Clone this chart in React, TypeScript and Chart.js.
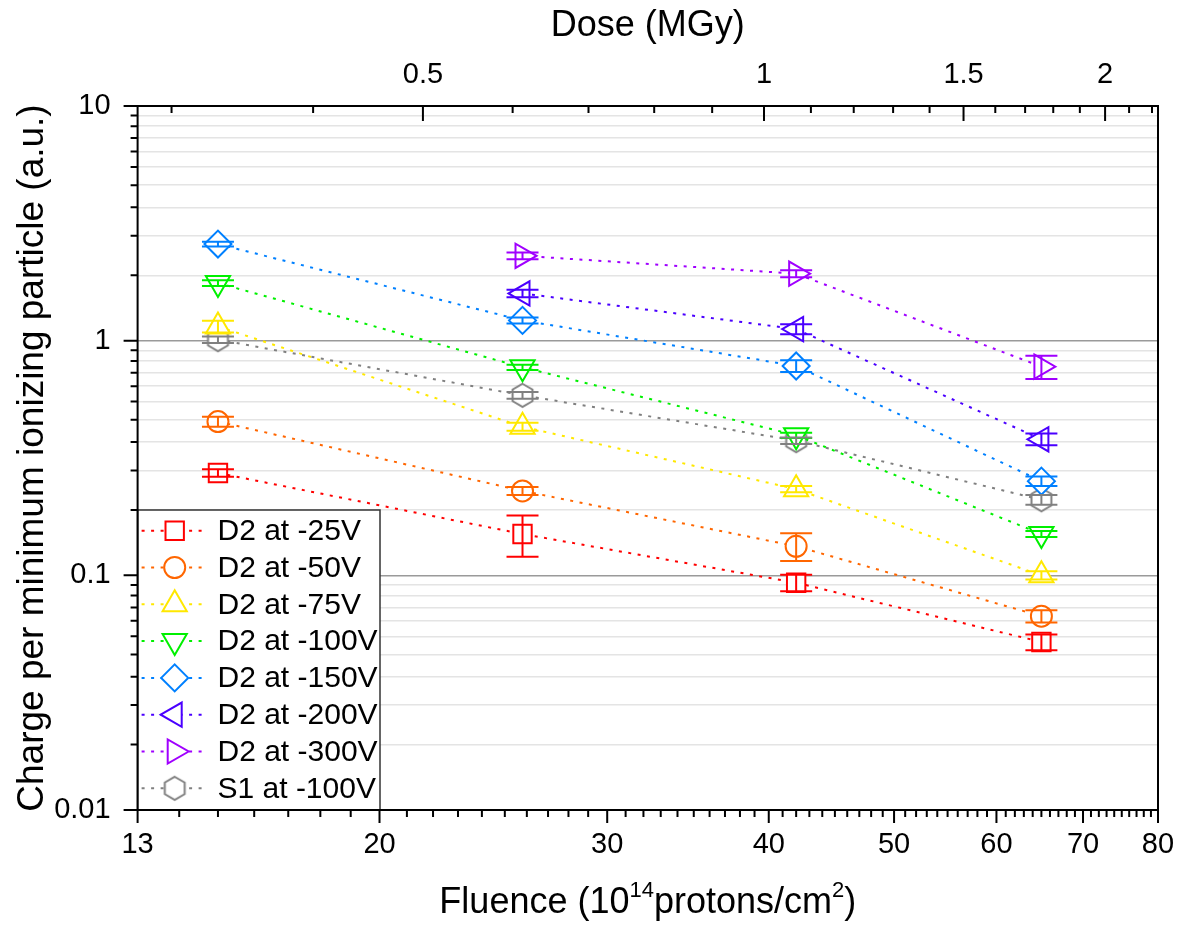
import React, { useEffect, useRef } from 'react';
import { Chart, registerables } from 'chart.js';

Chart.register(...registerables);

// ---------- data ----------
const fluence = [15, 25.8, 42, 65];

const seriesNames = [
  'D2 at -25V',
  'D2 at -50V',
  'D2 at -75V',
  'D2 at -100V',
  'D2 at -150V',
  'D2 at -200V',
  'D2 at -300V',
  'S1 at -100V',
];

const v25 = [0.273, 0.15, 0.093, 0.052];
const e25 = [0.01, 0.03, 0.0075, 0.004];
const v50 = [0.452, 0.229, 0.133, 0.067];
const e50 = [0.022, 0.009, 0.018, 0.004];
const v75 = [1.15, 0.43, 0.233, 0.1];
const e75 = [0.066, 0.017, 0.007, 0.004];
const v100 = [1.76, 0.77, 0.395, 0.15];
const e100 = [0.05, 0.02, 0.01, 0.0045];
const v150 = [2.58, 1.22, 0.78, 0.252];
const e150 = [0.06, 0.036, 0.045, 0.012];
const v200 = [null, 1.59, 1.12, 0.38];
const e200 = [null, 0.06, 0.055, 0.022];
const v300 = [null, 2.3, 1.93, 0.775];
const e300 = [null, 0.075, 0.065, 0.088];
const vS1 = [1.01, 0.585, 0.375, 0.21];
const eS1 = [0.033, 0.019, 0.012, 0.01];

const seriesValues = [v25, v50, v75, v100, v150, v200, v300, vS1];
const seriesErrors = [e25, e50, e75, e100, e150, e200, e300, eS1];

// tick labels
const xTickLabels = [13, 20, 30, 40, 50, 60, 70, 80];
const doseTickLabels = [0.5, 1, 1.5, 2];
const doseMinorTicks = [0.3, 0.4, 0.6, 0.7, 0.8, 0.9, 1.1, 1.2, 1.3, 1.4, 1.6, 1.7, 1.8, 1.9, 2.1, 2.2];
const yDecades = [0.01, 0.1, 1, 10];
const yTickLabels = ['0.01', '0.1', '1', '10'];

// ---------- styles ----------
const colors = ['#FF0000', '#FF6600', '#FFE800', '#00F000', '#0080FF', '#4A00FF', '#A000FF', '#808080'];
const markerStyles = ['rect', 'circle', 'triangle', 'triangle', 'rectRot', 'triangle', 'triangle', 'hex'];
const markerRot = [0, 0, 0, 180, 0, -90, 90, 0];
const markerRadius = [13, 10.5, 14, 14, 13.5, 14, 14, 11.5];

const FONT = '"Liberation Sans", Arial, Helvetica, sans-serif';
const DASH = [3, 6.5];

function makeHexagon(color: string, r: number): HTMLCanvasElement {
  const c = document.createElement('canvas');
  const size = Math.ceil(2 * r + 6);
  c.width = size;
  c.height = size;
  const ctx = c.getContext('2d')!;
  const cx = size / 2;
  const cy = size / 2;
  ctx.beginPath();
  for (let i = 0; i < 6; i++) {
    const a = (Math.PI / 3) * i; // pointy top
    const px = cx + Math.sin(a) * r;
    const py = cy - Math.cos(a) * r;
    if (i === 0) ctx.moveTo(px, py);
    else ctx.lineTo(px, py);
  }
  ctx.closePath();
  ctx.fillStyle = '#ffffff';
  ctx.fill();
  ctx.strokeStyle = color;
  ctx.lineWidth = 2;
  ctx.stroke();
  return c;
}

function drawMarker(ctx: CanvasRenderingContext2D, idx: number, x: number, y: number, hex: HTMLCanvasElement) {
  const style = markerStyles[idx];
  const r = markerRadius[idx];
  const color = colors[idx];
  ctx.save();
  ctx.setLineDash([]);
  if (style === 'hex') {
    ctx.drawImage(hex, x - hex.width / 2, y - hex.height / 2);
    ctx.restore();
    return;
  }
  ctx.strokeStyle = color;
  ctx.fillStyle = '#ffffff';
  ctx.lineWidth = 2;
  ctx.beginPath();
  if (style === 'rect') {
    const s = r * Math.SQRT1_2;
    ctx.rect(x - s, y - s, 2 * s, 2 * s);
  } else if (style === 'circle') {
    ctx.arc(x, y, r, 0, Math.PI * 2);
  } else if (style === 'rectRot') {
    ctx.moveTo(x, y - r);
    ctx.lineTo(x + r, y);
    ctx.lineTo(x, y + r);
    ctx.lineTo(x - r, y);
    ctx.closePath();
  } else if (style === 'triangle') {
    let a = (markerRot[idx] * Math.PI) / 180;
    for (let i = 0; i < 3; i++) {
      const px = x + Math.sin(a) * r;
      const py = y - Math.cos(a) * r;
      if (i === 0) ctx.moveTo(px, py);
      else ctx.lineTo(px, py);
      a += (2 * Math.PI) / 3;
    }
    ctx.closePath();
  }
  ctx.fill();
  ctx.stroke();
  ctx.restore();
}

const near = (a: number, b: number) => Math.abs(a - b) < 1e-9 * Math.max(1, Math.abs(b));
const isDecade = (v: number) => Math.abs(Math.log10(v) - Math.round(Math.log10(v))) < 1e-6;

export default function App() {
  const canvasRef = useRef<HTMLCanvasElement | null>(null);

  useEffect(() => {
    const canvas = canvasRef.current;
    if (!canvas) return;
    const hex = makeHexagon(colors[7], markerRadius[7]);

    const datasets = seriesNames.map((name, i) => {
      const data: { x: number; y: number }[] = [];
      seriesValues[i].forEach((v, j) => {
        if (v !== null && v !== undefined) data.push({ x: fluence[j], y: v as number });
      });
      return {
        label: name,
        data,
        borderColor: colors[i],
        backgroundColor: colors[i],
        borderWidth: 2,
        borderDash: DASH,
        fill: false,
        tension: 0,
        pointStyle: markerStyles[i] === 'hex' ? hex : markerStyles[i],
        pointRotation: markerRot[i],
        pointRadius: markerRadius[i],
        pointBorderWidth: 2,
        pointBorderColor: colors[i],
        pointBackgroundColor: '#ffffff',
        xAxisID: 'x',
        yAxisID: 'y',
      };
    });

    // y ticks: Origin-style linear minor ticks inside each decade
    const yTickVals: number[] = [];
    for (let d = 0; d < yDecades.length - 1; d++) {
      for (let k = 0; k < 10; k++) yTickVals.push(yDecades[d] * (1 + 0.9 * k));
    }
    yTickVals.push(yDecades[yDecades.length - 1]);

    const xTickVals: number[] = [];
    for (let v = xTickLabels[0]; v <= xTickLabels[xTickLabels.length - 1]; v++) xTickVals.push(v);

    const doseTickVals = [...doseMinorTicks, ...doseTickLabels].sort((a, b) => a - b);

    const tickFont = { family: FONT, size: 29 };

    const decorPlugin = {
      id: 'decor',
      afterDatasetsDraw(chart: any) {
        const ctx: CanvasRenderingContext2D = chart.ctx;
        const xs = chart.scales.x;
        const ys = chart.scales.y;
        ctx.save();
        ctx.setLineDash([]);
        ctx.lineWidth = 2;
        seriesValues.forEach((vals, i) => {
          ctx.strokeStyle = colors[i];
          vals.forEach((v, j) => {
            const e = seriesErrors[i][j];
            if (v === null || e === null) return;
            const px = xs.getPixelForValue(fluence[j]);
            const y1 = ys.getPixelForValue((v as number) + (e as number));
            const y2 = ys.getPixelForValue((v as number) - (e as number));
            ctx.beginPath();
            ctx.moveTo(px, y1);
            ctx.lineTo(px, y2);
            ctx.moveTo(px - 16, y1);
            ctx.lineTo(px + 16, y1);
            ctx.moveTo(px - 16, y2);
            ctx.lineTo(px + 16, y2);
            ctx.stroke();
          });
        });
        ctx.restore();
      },
      afterDraw(chart: any) {
        const ctx: CanvasRenderingContext2D = chart.ctx;
        const { left, right, top, bottom } = chart.chartArea;
        const xs = chart.scales.x;
        const x2 = chart.scales.x2;
        const ys = chart.scales.y;

        // legend
        const lgTop = 510;
        const lgRight = 380;
        ctx.save();
        ctx.fillStyle = '#ffffff';
        ctx.fillRect(left, lgTop, lgRight - left, bottom - lgTop);
        ctx.strokeStyle = '#333333';
        ctx.lineWidth = 1.5;
        ctx.strokeRect(left, lgTop, lgRight - left, bottom - lgTop);
        seriesNames.forEach((name, i) => {
          const cy = 530.7 + 36.8 * i;
          ctx.save();
          ctx.strokeStyle = colors[i];
          ctx.lineWidth = 2;
          ctx.setLineDash(DASH);
          ctx.beginPath();
          ctx.moveTo(left + 4, cy);
          ctx.lineTo(204, cy);
          ctx.stroke();
          ctx.restore();
          drawMarker(ctx, i, 174.7, cy, hex);
          ctx.fillStyle = '#000000';
          ctx.font = `30px ${FONT}`;
          ctx.textAlign = 'left';
          ctx.textBaseline = 'middle';
          ctx.fillText(name, 217.5, cy + 1);
        });
        ctx.restore();

        // ticks
        ctx.save();
        ctx.strokeStyle = '#000000';
        ctx.lineWidth = 2;
        ctx.setLineDash([]);
        ctx.beginPath();
        ys.ticks.forEach((t: any) => {
          const py = ys.getPixelForValue(t.value);
          const len = isDecade(t.value) ? 14 : 7;
          ctx.moveTo(left - len, py);
          ctx.lineTo(left, py);
        });
        xs.ticks.forEach((t: any) => {
          const px = xs.getPixelForValue(t.value);
          const len = xTickLabels.some((v) => near(v, t.value)) ? 13 : 7;
          ctx.moveTo(px, bottom);
          ctx.lineTo(px, bottom + len);
        });
        x2.ticks.forEach((t: any) => {
          const px = x2.getPixelForValue(t.value);
          const len = doseTickLabels.some((v) => near(v, t.value)) ? 15 : 7;
          ctx.moveTo(px, top);
          ctx.lineTo(px, top + len);
        });
        ctx.stroke();
        // frame
        ctx.strokeRect(left, top, right - left, bottom - top);
        ctx.restore();

        // titles
        ctx.save();
        ctx.fillStyle = '#000000';
        const cx = (left + right) / 2;
        ctx.font = `36px ${FONT}`;
        ctx.textBaseline = 'alphabetic';
        ctx.textAlign = 'center';
        ctx.fillText('Dose (MGy)', cx, 36);

        // Fluence title with superscripts
        const parts: [string, boolean][] = [
          ['Fluence (10', false],
          ['14', true],
          ['protons/cm', false],
          ['2', true],
          [')', false],
        ];
        const mainFont = `36px ${FONT}`;
        const supFont = `22px ${FONT}`;
        let total = 0;
        parts.forEach(([s, sup]) => {
          ctx.font = sup ? supFont : mainFont;
          total += ctx.measureText(s).width;
        });
        let px = cx - total / 2;
        ctx.textAlign = 'left';
        parts.forEach(([s, sup]) => {
          ctx.font = sup ? supFont : mainFont;
          ctx.fillText(s, px, sup ? 897 : 913);
          px += ctx.measureText(s).width;
        });

        // y title
        ctx.font = `37px ${FONT}`;
        ctx.textAlign = 'center';
        ctx.translate(43, (top + bottom) / 2);
        ctx.rotate(-Math.PI / 2);
        ctx.fillText('Charge per minimum ionizing particle (a.u.)', 0, 0);
        ctx.restore();
      },
    };

    const chart = new Chart(canvas, {
      type: 'line',
      data: { datasets: datasets as any },
      options: {
        responsive: false,
        animation: false,
        devicePixelRatio: 1,
        layout: { padding: 0 },
        plugins: {
          legend: { display: false },
          tooltip: { enabled: false },
        },
        scales: {
          x: {
            type: 'logarithmic',
            position: 'bottom',
            min: 13,
            max: 80,
            afterBuildTicks: (s: any) => {
              s.ticks = xTickVals.map((v) => ({ value: v }));
            },
            afterFit: (s: any) => {
              s.height = 115;
              s.paddingRight = 21;
              s.paddingLeft = 0;
            },
            grid: { drawOnChartArea: false, drawTicks: false },
            border: { display: false },
            ticks: {
              autoSkip: false,
              maxRotation: 0,
              minRotation: 0,
              padding: 18,
              color: '#000000',
              font: tickFont,
              callback: (value: any) => {
                const m = xTickLabels.find((v) => near(v, Number(value)));
                return m !== undefined ? String(m) : '';
              },
            },
          },
          x2: {
            type: 'logarithmic',
            position: 'top',
            min: 0.28,
            max: 2.227,
            afterBuildTicks: (s: any) => {
              s.ticks = doseTickVals.map((v) => ({ value: v }));
            },
            afterFit: (s: any) => {
              s.height = 106;
              s.paddingRight = 0;
              s.paddingLeft = 0;
            },
            grid: { drawOnChartArea: false, drawTicks: false },
            border: { display: false },
            ticks: {
              autoSkip: false,
              maxRotation: 0,
              minRotation: 0,
              padding: 14,
              color: '#000000',
              font: tickFont,
              callback: (value: any) => {
                const m = doseTickLabels.find((v) => near(v, Number(value)));
                return m !== undefined ? String(m) : '';
              },
            },
          },
          y: {
            type: 'logarithmic',
            position: 'left',
            min: 0.01,
            max: 10,
            afterBuildTicks: (s: any) => {
              s.ticks = yTickVals.map((v) => ({ value: v }));
            },
            afterFit: (s: any) => {
              s.width = 137.6;
              s.paddingTop = 0;
              s.paddingBottom = 0;
            },
            grid: {
              drawTicks: false,
              lineWidth: 1.5,
              color: (c: any) => (c.tick && isDecade(c.tick.value) ? '#9a9a9a' : '#e4e4e4'),
            },
            border: { display: false },
            ticks: {
              autoSkip: false,
              padding: 27,
              color: '#000000',
              font: tickFont,
              callback: (value: any) => {
                const idx = yDecades.findIndex((v) => near(v, Number(value)));
                return idx >= 0 ? yTickLabels[idx] : '';
              },
            },
          },
        },
      } as any,
      plugins: [decorPlugin],
    });

    return () => {
      chart.destroy();
    };
  }, []);

  return (
    <div style={{ position: 'fixed', left: 0, top: 0, width: 1179, height: 925, background: '#ffffff' }}>
      <canvas ref={canvasRef} width={1179} height={925} style={{ display: 'block' }} />
    </div>
  );
}
